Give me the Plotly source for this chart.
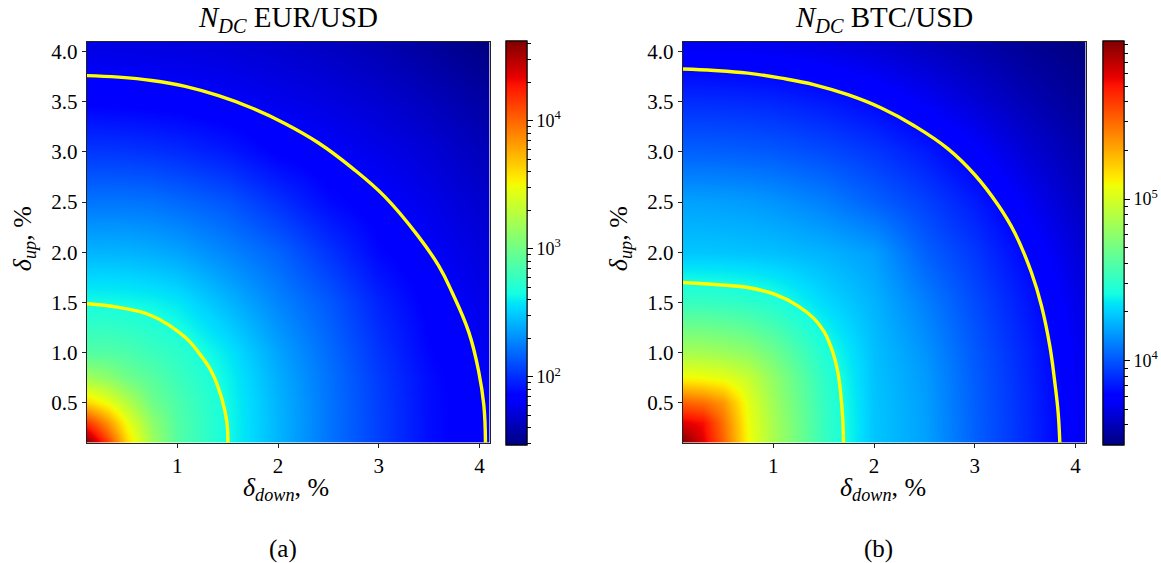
import numpy as np
import plotly.graph_objects as go

# grid nodes (delta_down along x, delta_up along y), in %
delta = [0.1, 0.3, 0.5, 0.75, 1.0, 1.5, 2.0, 2.5, 3.0, 3.5, 4.1]

eur_log_ndc = [
    [4.62, 4.17, 3.63, 3.19, 2.889, 2.648, 2.426, 2.225, 2.062, 1.902, 1.794],
    [4.17, 3.86, 3.48, 3.12, 2.888, 2.645, 2.429, 2.228, 2.061, 1.903, 1.792],
    [3.63, 3.48, 3.27, 3.00, 2.862, 2.638, 2.423, 2.227, 2.057, 1.902, 1.789],
    [3.19, 3.12, 3.00, 2.906, 2.798, 2.620, 2.405, 2.218, 2.045, 1.898, 1.783],
    [2.889, 2.888, 2.862, 2.798, 2.741, 2.582, 2.374, 2.199, 2.026, 1.875, 1.775],
    [2.648, 2.645, 2.638, 2.620, 2.582, 2.432, 2.278, 2.140, 1.971, 1.845, 1.751],
    [2.426, 2.429, 2.423, 2.405, 2.374, 2.278, 2.175, 2.024, 1.881, 1.805, 1.719],
    [2.225, 2.228, 2.227, 2.218, 2.191, 2.128, 2.012, 1.890, 1.827, 1.762, 1.676],
    [2.035, 2.033, 2.028, 2.015, 1.996, 1.940, 1.854, 1.811, 1.761, 1.710, 1.624],
    [1.852, 1.851, 1.847, 1.840, 1.829, 1.806, 1.771, 1.738, 1.695, 1.639, 1.562],
    [1.740, 1.738, 1.735, 1.729, 1.724, 1.706, 1.681, 1.645, 1.603, 1.547, 1.470],
]

btc_log_ndc = [
    [5.98, 5.775, 5.50, 5.094, 4.86, 4.52, 4.28, 4.19, 4.03, 3.90, 3.72],
    [5.775, 5.72, 5.46, 5.077, 4.854, 4.518, 4.28, 4.188, 4.029, 3.899, 3.72],
    [5.50, 5.46, 5.36, 5.05, 4.831, 4.51, 4.278, 4.184, 4.026, 3.897, 3.718],
    [5.094, 5.077, 5.05, 4.96, 4.79, 4.49, 4.272, 4.175, 4.02, 3.892, 3.714],
    [4.86, 4.854, 4.831, 4.79, 4.69, 4.452, 4.265, 4.159, 4.01, 3.883, 3.708],
    [4.52, 4.518, 4.51, 4.49, 4.452, 4.331, 4.235, 4.107, 3.977, 3.853, 3.688],
    [4.28, 4.28, 4.278, 4.272, 4.265, 4.235, 4.184, 4.031, 3.927, 3.806, 3.655],
    [4.19, 4.188, 4.184, 4.175, 4.159, 4.107, 4.031, 3.952, 3.857, 3.739, 3.613],
    [4.03, 4.029, 4.026, 4.02, 4.01, 3.977, 3.927, 3.857, 3.765, 3.668, 3.572],
    [3.90, 3.899, 3.897, 3.892, 3.883, 3.853, 3.806, 3.739, 3.668, 3.599, 3.525],
    [3.72, 3.72, 3.718, 3.714, 3.708, 3.688, 3.655, 3.613, 3.572, 3.525, 3.48],
]

# yellow iso-lines (delta_down, delta_up)
eur_outer_x = [0.1, 0.415, 0.746, 1.078, 1.409, 1.74, 2.072, 2.403, 2.735, 3.06, 3.384, 3.596, 3.729, 3.895, 3.994, 4.044, 4.06]
eur_outer_y = [3.76, 3.745, 3.712, 3.653, 3.56, 3.437, 3.281, 3.089, 2.841, 2.554, 2.17, 1.863, 1.598, 1.2, 0.803, 0.472, 0.1]
eur_inner_x = [0.1, 0.415, 0.746, 1.078, 1.21, 1.343, 1.442, 1.492, 1.502]
eur_inner_y = [1.485, 1.449, 1.366, 1.151, 1.001, 0.803, 0.538, 0.306, 0.1]
btc_outer_x = [0.1, 0.415, 0.746, 1.078, 1.409, 1.74, 2.072, 2.403, 2.735, 3.0, 3.232, 3.397, 3.563, 3.663, 3.745, 3.795, 3.828, 3.845]
btc_outer_y = [3.826, 3.812, 3.785, 3.735, 3.669, 3.57, 3.437, 3.258, 3.03, 2.772, 2.47, 2.194, 1.797, 1.465, 1.068, 0.703, 0.405, 0.1]
btc_inner_x = [0.1, 0.415, 0.746, 1.011, 1.243, 1.409, 1.508, 1.591, 1.641, 1.674, 1.691, 1.697]
btc_inner_y = [1.697, 1.677, 1.648, 1.581, 1.465, 1.333, 1.2, 1.001, 0.803, 0.538, 0.306, 0.1]

eur_range = [1.47, 4.625]          # colour-bar limits (log10 N)
btc_range = [3.48, 5.98]
eur_major = [2, 3, 4]
btc_major = [4, 5]

# ---- matplotlib 'jet' colour scale ----
_r = [(0, 0), (0.35, 0), (0.66, 1), (0.89, 1), (1, 0.5)]
_g = [(0, 0), (0.125, 0), (0.375, 1), (0.64, 1), (0.91, 0), (1, 0)]
_b = [(0, 0.5), (0.11, 1), (0.34, 1), (0.65, 0), (1, 0)]
bps = sorted(set([p for seg in (_r, _g, _b) for p, _ in seg]))
def _ch(seg, t):
    return float(np.interp(t, [p for p, _ in seg], [v for _, v in seg]))
jet = [[t, "rgb(%d,%d,%d)" % (round(255 * _ch(_r, t)), round(255 * _ch(_g, t)), round(255 * _ch(_b, t)))]
       for t in bps]

W, H = 1161, 563
FONT = "Liberation Serif"

def minor_ticks(lo, hi):
    vals = []
    for d in range(int(np.floor(lo)), int(np.ceil(hi)) + 1):
        for k in range(2, 10):
            v = d + np.log10(k)
            if lo <= v <= hi:
                vals.append(v)
    return vals

panels = [
    dict(z=eur_log_ndc, rng=eur_range, major=eur_major,
         lines=[(eur_inner_x, eur_inner_y), (eur_outer_x, eur_outer_y)],
         xd=[86.7 / W, 489.5 / W], cbx=505.5 / W, xa="x", ya="y",
         title="<i>N</i><sub><i>DC</i></sub> EUR/USD", cx=288, lx=286, lab="(a)", labx=283, ytx=24),
    dict(z=btc_log_ndc, rng=btc_range, major=btc_major,
         lines=[(btc_inner_x, btc_inner_y), (btc_outer_x, btc_outer_y)],
         xd=[682.7 / W, 1085.5 / W], cbx=1103.3 / W, xa="x2", ya="y2",
         title="<i>N</i><sub><i>DC</i></sub> BTC/USD", cx=884, lx=883, lab="(b)", labx=878, ytx=620),
]
ydom = [1 - 442.3 / H, 1 - 39.7 / H]

fig = go.Figure()
annotations = []
for p in panels:
    lo, hi = p["rng"]
    cb_common = dict(x=p["cbx"], xanchor="left", xpad=0, y=1 - 241.5 / H, yanchor="middle", ypad=0,
                     len=404, lenmode="pixels", thickness=21, thicknessmode="pixels",
                     outlinewidth=1, outlinecolor="black", tickcolor="black", tickwidth=1)
    # minor ticks colour bar (underneath)
    fig.add_trace(go.Scatter(
        x=[-10], y=[-10], mode="markers", xaxis=p["xa"], yaxis=p["ya"], showlegend=False,
        hoverinfo="skip",
        marker=dict(color=[lo], colorscale=jet, cmin=lo, cmax=hi, showscale=True,
                    colorbar=dict(**cb_common, tickvals=minor_ticks(lo, hi), ticks="outside",
                                  ticklen=3.5, showticklabels=False))))
    fig.add_trace(go.Heatmap(
        x=delta, y=delta, z=p["z"], zmin=lo, zmax=hi, colorscale=jet, zsmooth="best",
        xaxis=p["xa"], yaxis=p["ya"], hoverinfo="skip",
        colorbar=dict(**cb_common, tickvals=p["major"],
                      ticktext=["10<sup>%d</sup>" % m for m in p["major"]],
                      ticks="outside", ticklen=6,
                      tickfont=dict(family=FONT, size=18, color="black"))))
    for lx, ly in p["lines"]:
        fig.add_trace(go.Scatter(
            x=lx, y=ly, mode="lines", xaxis=p["xa"], yaxis=p["ya"], showlegend=False,
            hoverinfo="skip", cliponaxis=True,
            line=dict(color="#ffff00", width=3.4, shape="spline", smoothing=1.2)))
    annotations += [
        dict(text=p["title"], x=p["cx"] / W, y=1 - 17 / H, xref="paper", yref="paper",
             xanchor="center", yanchor="middle", showarrow=False,
             font=dict(family=FONT, size=29, color="black")),
        dict(text="<i>δ</i><sub><i>down</i></sub>, %", x=p["lx"] / W, y=1 - 489 / H,
             xref="paper", yref="paper", xanchor="center", yanchor="middle", showarrow=False,
             font=dict(family=FONT, size=26, color="black")),
        dict(text="<i>δ</i><sub><i>up</i></sub>, %", x=p["ytx"] / W, y=1 - 238 / H,
             xref="paper", yref="paper", xanchor="center", yanchor="middle", showarrow=False,
             textangle=-90, font=dict(family=FONT, size=26, color="black")),
        dict(text=p["lab"], x=p["labx"] / W, y=1 - 549 / H, xref="paper", yref="paper",
             xanchor="center", yanchor="middle", showarrow=False,
             font=dict(family=FONT, size=25, color="black")),
    ]

ax_common = dict(range=[0.1, 4.1], showgrid=False, zeroline=False, showline=True,
                 linecolor="#222222", linewidth=1, mirror=True, ticks="outside", ticklen=4,
                 tickcolor="#222222", tickfont=dict(family=FONT, size=21, color="black"))
xt = dict(tickvals=[1, 2, 3, 4], ticktext=["1", "2", "3", "4"])
yv = [0.5, 1.0, 1.5, 2.0, 2.5, 3.0, 3.5, 4.0]
yt = dict(tickvals=yv, ticktext=["%.1f" % v for v in yv])

fig.update_layout(
    width=W, height=H, margin=dict(l=0, r=0, t=0, b=0),
    paper_bgcolor="white", plot_bgcolor="white", showlegend=False,
    xaxis=dict(**ax_common, **xt, domain=panels[0]["xd"], anchor="y"),
    yaxis=dict(**ax_common, **yt, domain=ydom, anchor="x"),
    xaxis2=dict(**ax_common, **xt, domain=panels[1]["xd"], anchor="y2"),
    yaxis2=dict(**ax_common, **yt, domain=ydom, anchor="x2"),
    annotations=annotations,
)

fig.write_html("out.html")
